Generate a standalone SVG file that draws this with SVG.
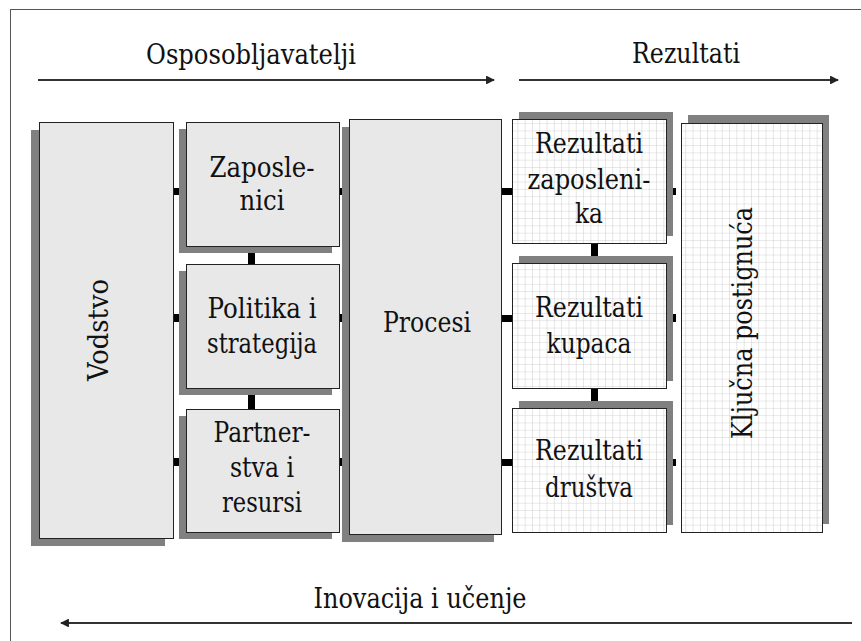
<svg xmlns="http://www.w3.org/2000/svg" width="861" height="641" viewBox="0 0 861 641">
<defs>
<style>
.t{font-family:'DejaVu Serif','Liberation Serif',serif;font-size:27px;fill:#111;text-anchor:middle}
.box{fill:#e8e8e8;stroke:#222;stroke-width:1}
.gbox{fill:url(#grid);stroke:#222;stroke-width:1}
.sh{fill:#808080}
.ln{stroke:#333;stroke-width:2.2;fill:none}
.c{fill:#000}
</style>
<pattern id="grid" x="0" y="0" width="7.3" height="7.3" patternUnits="userSpaceOnUse">
<rect width="7.3" height="7.3" fill="#fff"/>
<path d="M7.3 0V7.3M0 7.3H7.3" stroke="#cfcfcf" stroke-width="1"/>
</pattern>
<marker id="ah" viewBox="0 0 10 10" refX="9" refY="5" markerWidth="4" markerHeight="4" orient="auto">
<path d="M0 0L10 5L0 10z" fill="#222"/>
</marker>
</defs>
<rect width="861" height="641" fill="#fff"/>
<rect x="10.5" y="9.5" width="860" height="640" fill="none" stroke="#555" stroke-width="1"/>

<g id="labels">
<text class="t" x="251" y="64" textLength="210" lengthAdjust="spacingAndGlyphs">Osposobljavatelji</text>
<text class="t" x="686" y="63" textLength="108" lengthAdjust="spacingAndGlyphs">Rezultati</text>
<text class="t" x="420" y="608" textLength="213" lengthAdjust="spacingAndGlyphs">Inovacija i učenje</text>
</g>

<g id="connectors">
<line class="ln" x1="38" y1="80" x2="494" y2="80" marker-end="url(#ah)"/>
<line class="ln" x1="519" y1="80" x2="838" y2="80" marker-end="url(#ah)"/>
<line class="ln" x1="852" y1="623" x2="61" y2="623" marker-end="url(#ah)"/>
<rect class="c" x="173" y="188" width="8" height="7"/>
<rect class="c" x="338" y="188" width="11" height="7"/>
<rect class="c" x="501" y="188" width="11" height="7"/>
<rect class="c" x="672" y="188" width="4" height="7"/>
<rect class="c" x="173" y="314" width="8" height="8"/>
<rect class="c" x="338" y="314" width="11" height="8"/>
<rect class="c" x="501" y="315" width="11" height="7"/>
<rect class="c" x="672" y="314" width="4" height="8"/>
<rect class="c" x="173" y="458" width="8" height="8"/>
<rect class="c" x="338" y="458" width="11" height="8"/>
<rect class="c" x="501" y="459" width="11" height="7"/>
<rect class="c" x="672" y="459" width="4" height="7"/>
<rect class="c" x="248" y="252" width="7" height="12"/>
<rect class="c" x="248" y="394" width="7" height="15"/>
<rect class="c" x="591" y="243" width="7" height="13"/>
<rect class="c" x="591" y="388" width="7" height="13"/>
</g>

<g id="vodstvo">
<rect class="sh" x="31" y="130" width="134" height="416"/>
<rect class="box" x="39.5" y="122.5" width="134" height="416"/>
<text class="t" transform="translate(108,330) rotate(-90)" textLength="102" lengthAdjust="spacingAndGlyphs">Vodstvo</text>
</g>

<g id="zaposlenici">
<rect class="sh" x="179" y="129" width="153" height="124"/>
<rect class="box" x="186.5" y="122.5" width="153" height="124"/>
<text class="t" x="262" y="177" textLength="105" lengthAdjust="spacingAndGlyphs">Zaposle-</text>
<text class="t" x="262" y="210" textLength="45" lengthAdjust="spacingAndGlyphs">nici</text>
</g>

<g id="politika">
<rect class="sh" x="179" y="271" width="153" height="124"/>
<rect class="box" x="186.5" y="264.5" width="153" height="124"/>
<text class="t" x="262" y="318" textLength="109" lengthAdjust="spacingAndGlyphs">Politika i</text>
<text class="t" x="262" y="353" textLength="110" lengthAdjust="spacingAndGlyphs">strategija</text>
</g>

<g id="partnerstva">
<rect class="sh" x="179" y="416" width="153" height="123"/>
<rect class="box" x="186.5" y="409.5" width="153" height="123"/>
<text class="t" x="262" y="442" textLength="97" lengthAdjust="spacingAndGlyphs">Partner-</text>
<text class="t" x="262" y="477" textLength="64" lengthAdjust="spacingAndGlyphs">stva i</text>
<text class="t" x="262" y="512" textLength="80" lengthAdjust="spacingAndGlyphs">resursi</text>
</g>

<g id="procesi">
<rect class="sh" x="342" y="127" width="152" height="415"/>
<rect class="box" x="349.5" y="119.5" width="152" height="415"/>
<text class="t" x="427" y="332" textLength="88" lengthAdjust="spacingAndGlyphs">Procesi</text>
</g>

<g id="rez-zaposlenika">
<rect class="sh" x="519" y="112" width="154" height="124"/>
<rect class="gbox" x="512.5" y="119.5" width="154" height="124"/>
<text class="t" x="589" y="153" textLength="108" lengthAdjust="spacingAndGlyphs">Rezultati</text>
<text class="t" x="589" y="189" textLength="123" lengthAdjust="spacingAndGlyphs">zaposleni-</text>
<text class="t" x="589" y="223" textLength="28" lengthAdjust="spacingAndGlyphs">ka</text>
</g>

<g id="rez-kupaca">
<rect class="sh" x="519" y="256" width="154" height="125"/>
<rect class="gbox" x="512.5" y="263.5" width="154" height="125"/>
<text class="t" x="589" y="317" textLength="108" lengthAdjust="spacingAndGlyphs">Rezultati</text>
<text class="t" x="589" y="353" textLength="85" lengthAdjust="spacingAndGlyphs">kupaca</text>
</g>

<g id="rez-drustva">
<rect class="sh" x="519" y="401" width="154" height="124"/>
<rect class="gbox" x="512.5" y="408.5" width="154" height="124"/>
<text class="t" x="589" y="460" textLength="108" lengthAdjust="spacingAndGlyphs">Rezultati</text>
<text class="t" x="589" y="497" textLength="88" lengthAdjust="spacingAndGlyphs">društva</text>
</g>

<g id="kljucna">
<rect class="sh" x="688" y="115" width="141" height="409"/>
<rect class="gbox" x="681.5" y="123.5" width="141" height="409"/>
<text class="t" transform="translate(752,323) rotate(-90)" textLength="232" lengthAdjust="spacingAndGlyphs">Ključna postignuća</text>
</g>
</svg>
